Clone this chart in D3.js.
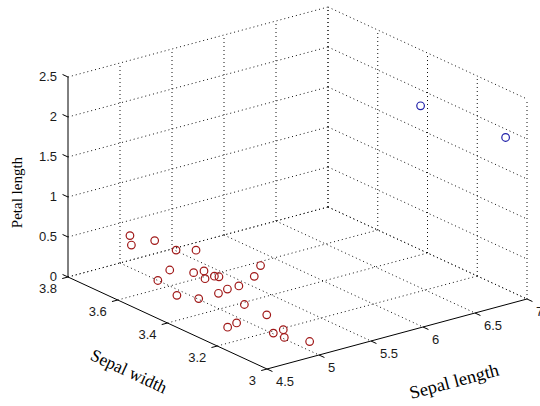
<!DOCTYPE html>
<html>
<head>
<meta charset="utf-8">
<script src="https://cdn.jsdelivr.net/npm/d3@7"></script>
<style>
html,body{margin:0;padding:0;background:#fff;}
svg{display:block;}
</style>
</head>
<body>
<svg id="chart" width="540" height="406"></svg>
<script>
// ---- data ----
const slTicks = [4.5, 5, 5.5, 6, 6.5, 7];
const swTicks = [3.0, 3.2, 3.4, 3.6, 3.8];
const plTicks = [0, 0.5, 1, 1.5, 2, 2.5];
const slTickLabels = ["4.5", "5", "5.5", "6", "6.5", "7"];
const swTickLabels = ["3", "3.2", "3.4", "3.6", "3.8"];
const plTickLabels = ["0", "0.5", "1", "1.5", "2", "2.5"];

const redSL = [5.00, 4.99, 5.19, 5.30, 5.42, 5.00, 4.79, 5.11, 5.09, 5.10, 5.19, 5.21, 4.71, 4.80, 4.99, 5.10, 5.61, 5.43, 5.21, 5.00, 5.00, 4.71, 4.60, 4.80, 4.80, 4.81, 4.91];
const redSW = [3.76, 3.75, 3.74, 3.70, 3.67, 3.60, 3.56, 3.55, 3.50, 3.50, 3.50, 3.49, 3.45, 3.40, 3.40, 3.41, 3.49, 3.44, 3.41, 3.30, 3.21, 3.21, 3.20, 3.10, 3.06, 3.06, 3.00];
const redPL = [0.4, 0.3, 0.3, 0.2, 0.2, 0.2, 0.2, 0.2, 0.3, 0.2, 0.2, 0.2, 0.2, 0.2, 0.2, 0.2, 0.2, 0.2, 0.2, 0.2, 0.2, 0.2, 0.2, 0.2, 0.3, 0.2, 0.2];

const blueSL = [6.79, 6.89];
const blueSW = [3.34, 3.04];
const bluePL = [2.0, 2.0];

// ---- projection (orthographic 3D box) ----
const O = [68, 277], EX = [260, -70], EY = [199, 92], EZ = [0, -200];
const sx = d3.scaleLinear().domain([4.5, 7]).range([0, 1]);
const sy = d3.scaleLinear().domain([3.8, 3.0]).range([0, 1]);
const sz = d3.scaleLinear().domain([0, 2.5]).range([0, 1]);
function P(a, b, c) {
  const u = sx(a), v = sy(b), w = sz(c);
  return [O[0] + u*EX[0] + v*EY[0] + w*EZ[0], O[1] + u*EX[1] + v*EY[1] + w*EZ[1]];
}
function unit(v, s) { const l = Math.hypot(v[0], v[1]); return [v[0]/l*s, v[1]/l*s]; }

const svg = d3.select("#chart");
const line = d3.line();

// ---- grid ----
const grid = [];
slTicks.filter(d => d !== 4.5).forEach(sl => {
  grid.push([P(sl, 3.8, 0), P(sl, 3.8, 2.5)]);
  grid.push([P(sl, 3.8, 0), P(sl, 3.0, 0)]);
});
plTicks.forEach(pl => {
  grid.push([P(4.5, 3.8, pl), P(7, 3.8, pl)]);
  grid.push([P(7, 3.8, pl), P(7, 3.0, pl)]);
});
swTicks.forEach(sw => {
  grid.push([P(7, sw, 0), P(7, sw, 2.5)]);
  if (sw !== 3.0) grid.push([P(4.5, sw, 0), P(7, sw, 0)]);
});
svg.append("g").selectAll("path").data(grid).join("path")
  .attr("d", d => line(d))
  .attr("fill", "none")
  .attr("stroke", "#111")
  .attr("stroke-width", 1)
  .attr("stroke-dasharray", "1,3");

// ---- axes ----
const axes = [
  [P(4.5, 3.8, 0), P(4.5, 3.8, 2.5)],
  [P(4.5, 3.8, 0), P(4.5, 3.0, 0)],
  [P(4.5, 3.0, 0), P(7, 3.0, 0)]
];
svg.append("g").selectAll("path").data(axes).join("path")
  .attr("d", d => line(d)).attr("fill", "none")
  .attr("stroke", "#000").attr("stroke-width", 1);

const tz = unit([-EY[0], -EY[1]], 6);
const tsw = unit([-EX[0], -EX[1]], 6);
const tsl = unit([EY[0], EY[1]], 6);
const ticks = [];
plTicks.forEach(pl => { const p = P(4.5, 3.8, pl); ticks.push([p, [p[0]+tz[0], p[1]+tz[1]]]); });
swTicks.forEach(sw => { const p = P(4.5, sw, 0); ticks.push([p, [p[0]+tsw[0], p[1]+tsw[1]]]); });
slTicks.forEach(sl => { const p = P(sl, 3.0, 0); ticks.push([p, [p[0]+tsl[0], p[1]+tsl[1]]]); });
svg.append("g").selectAll("path").data(ticks).join("path")
  .attr("d", d => line(d)).attr("fill", "none")
  .attr("stroke", "#000").attr("stroke-width", 1);

// ---- tick labels ----
const tl = svg.append("g").attr("font-family", "'Liberation Sans', Arial, sans-serif")
  .attr("font-size", 13).attr("fill", "#1a1a1a");
plTicks.forEach((pl, i) => {
  const p = P(4.5, 3.8, pl);
  tl.append("text").attr("x", p[0] - 11).attr("y", p[1] - 1).attr("dy", "0.35em")
    .attr("text-anchor", "end").text(plTickLabels[i]);
});
swTicks.forEach((sw, i) => {
  const p = P(4.5, sw, 0);
  tl.append("text").attr("x", p[0] - 11).attr("y", p[1] + 11.5).attr("dy", "0.35em")
    .attr("text-anchor", "end").text(swTickLabels[i]);
});
slTicks.forEach((sl, i) => {
  const p = P(sl, 3.0, 0);
  tl.append("text").attr("x", p[0] + 9).attr("y", p[1] + 12).attr("dy", "0.35em")
    .attr("text-anchor", "start").text(slTickLabels[i]);
});

// ---- axis titles ----
const tt = svg.append("g").attr("font-family", "'Liberation Serif', 'Times New Roman', serif")
  .attr("fill", "#000");
tt.append("text").attr("transform", "translate(17,192.5) rotate(-90)")
  .attr("dy", "0.35em").attr("text-anchor", "middle").attr("font-size", 15).text("Petal length");
tt.append("text").attr("transform", "translate(129,371) rotate(24.8)")
  .attr("dy", "0.35em").attr("text-anchor", "middle").attr("font-size", 17.5)
  .attr("textLength", 82).attr("lengthAdjust", "spacingAndGlyphs").text("Sepal width");
tt.append("text").attr("transform", "translate(454,381) rotate(-15.1)")
  .attr("dy", "0.35em").attr("text-anchor", "middle").attr("font-size", 18)
  .attr("textLength", 92).attr("lengthAdjust", "spacingAndGlyphs").text("Sepal length");

// ---- points ----
const red = redSL.map((d, i) => P(d, redSW[i], redPL[i]));
const blue = blueSL.map((d, i) => P(d, blueSW[i], bluePL[i]));
svg.append("g").selectAll("circle").data(red).join("circle")
  .attr("cx", d => d[0]).attr("cy", d => d[1]).attr("r", 3.8)
  .attr("fill", "none").attr("stroke", "#a01818").attr("stroke-width", 1.2);
svg.append("g").selectAll("circle").data(blue).join("circle")
  .attr("cx", d => d[0]).attr("cy", d => d[1]).attr("r", 3.8)
  .attr("fill", "none").attr("stroke", "#1f1fa8").attr("stroke-width", 1.2);
</script>
</body>
</html>
